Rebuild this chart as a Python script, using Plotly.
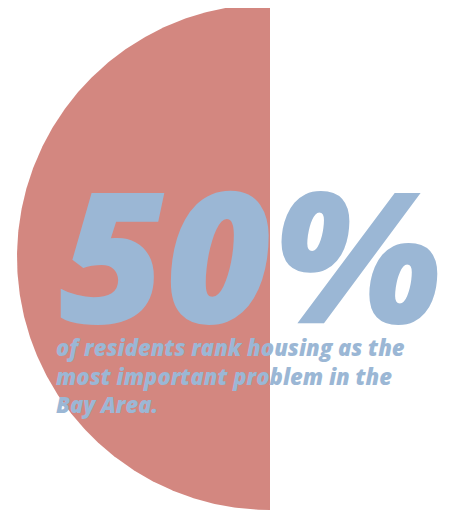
import numpy as np
import plotly.graph_objects as go

# Data
share_pct = 50
headline = "50%"
caption_lines = ["of residents rank housing as the",
                 "most important problem in the",
                 "Bay Area."]

SALMON = "#D38780"
BLUE = "#9BB7D5"
FONT = "Open Sans"

# Wedge for the share (starts at 12 o'clock, counter-clockwise)
start = np.pi / 2
end = start + 2 * np.pi * share_pct / 100
theta = np.linspace(start, end, 400)
xs = np.concatenate([[0], np.cos(theta), [0]])
ys = np.concatenate([[0], np.sin(theta), [0]])

W, H = 450, 510
OFF = 8  # page body margin
R_PX = 253.0
CX, CY = 270.0 - OFF, 257.0 - OFF


def px_x(v):
    return (v - OFF) / W


def px_y(v):
    return 1 - (v - OFF) / H


fig = go.Figure()
fig.add_trace(go.Scatter(x=xs, y=ys, mode="lines", fill="toself",
                         fillcolor=SALMON, line=dict(width=0, color=SALMON),
                         hoverinfo="skip", showlegend=False))

fig.add_annotation(text=headline, xref="paper", yref="paper",
                   x=px_x(57), y=px_y(320), xanchor="left", yanchor="middle",
                   yshift=68,
                   showarrow=False,
                   font=dict(family=FONT, size=183, color=BLUE,
                             weight=800, style="italic"))
fig.add_annotation(text="<br>".join(caption_lines), xref="paper", yref="paper",
                   x=px_x(54), y=px_y(330), xanchor="left", yanchor="top",
                   align="left", showarrow=False,
                   font=dict(family=FONT, size=22, color=BLUE,
                             weight=800, style="italic"))

fig.update_layout(
    width=W, height=H, margin=dict(l=0, r=0, t=0, b=0),
    paper_bgcolor="white", plot_bgcolor="white",
    xaxis=dict(range=[-CX / R_PX, (W - CX) / R_PX], visible=False, fixedrange=True),
    yaxis=dict(range=[-(H - CY) / R_PX, CY / R_PX], visible=False, fixedrange=True),
)
fig.write_html("out.html")
